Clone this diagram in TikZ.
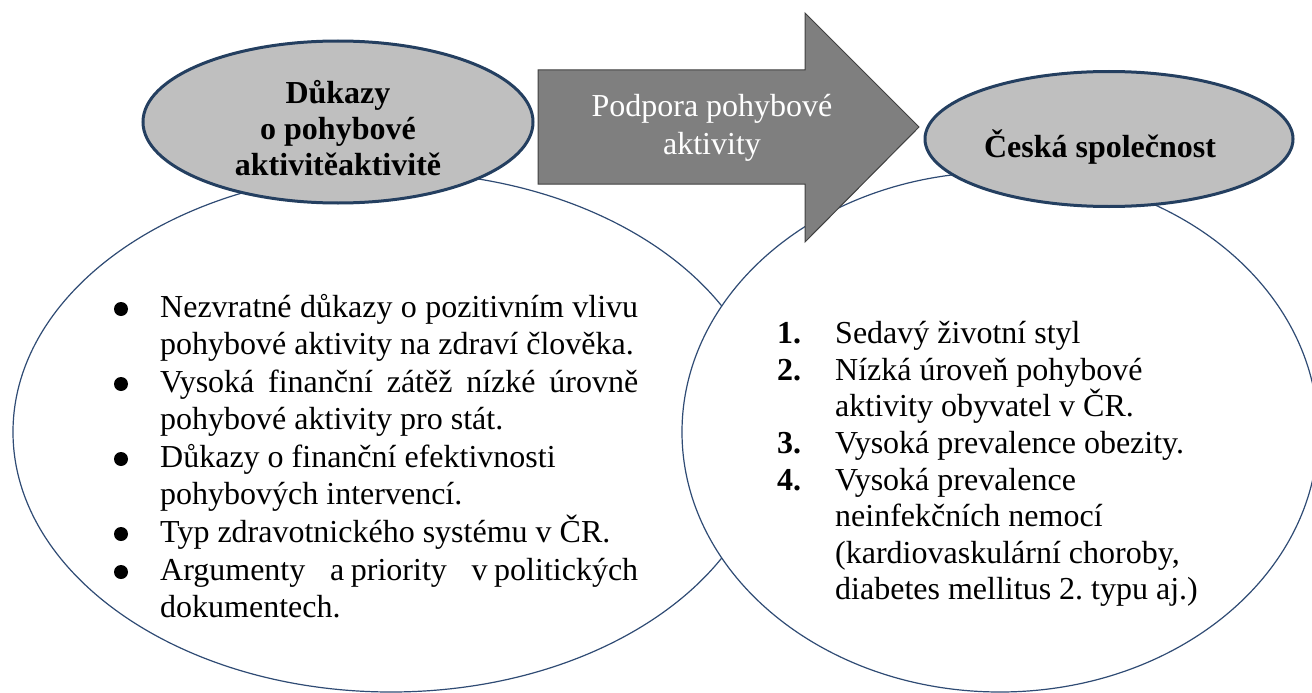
\documentclass[tikz,border=0pt]{standalone}
\usepackage{fontspec}
\setmainfont{Liberation Serif}
\usetikzlibrary{shapes.geometric}
\definecolor{navy}{HTML}{243F60}
\definecolor{linenavy}{HTML}{2F4B74}
\definecolor{ellgray}{HTML}{BFBFBF}
\definecolor{arrgray}{HTML}{7F7F7F}
\frenchspacing
\begin{document}
\begin{tikzpicture}[x=1pt,y=-1pt,
  bigell/.style={ellipse, draw=linenavy, line width=1.2pt, fill=white, inner sep=0pt},
  smallell/.style={ellipse, draw=navy, line width=3pt, fill=ellgray, inner sep=0pt},
  txt/.style={inner sep=0pt, font=\fontsize{32}{37.5}\selectfont},
  rtxt/.style={inner sep=0pt, font=\fontsize{32}{36.5}\selectfont},
  numlab/.style={inner sep=0pt, anchor=base west, font=\fontsize{32}{36.5}\selectfont\bfseries},
  arrowshape/.style={fill=arrgray, draw=black!75, line width=1pt},
  bulletdot/.style={fill=black}
]
\path[use as bounding box] (0,0) rectangle (1312,693);
\clip (0,0) rectangle (1312,693);

% big ellipses
\node[bigell, minimum width=756pt, minimum height=520pt] (leftbig) at (391,432) {};
\node[bigell, minimum width=636pt, minimum height=520pt] (rightbig) at (1000,432) {};

% arrow
\draw[arrowshape] (538,70) -- (805,70) -- (805,13) -- (919,127) -- (805,242) -- (805,184) -- (538,184) -- cycle;
\node[inner sep=0pt, anchor=base, text=white, font=\fontsize{32}{38}\selectfont] (arrtext) at (712,117)
  {\parbox[t]{320pt}{\centering Podpora pohybové\\aktivity}};

% small ellipses
\node[smallell, minimum width=390pt, minimum height=162pt] (evid) at (338,122) {};
\node[inner sep=0pt, anchor=base, font=\fontsize{32}{36}\selectfont\bfseries] (evidtext) at (338,103)
  {\parbox[t]{360pt}{\centering Důkazy\\o pohybové\\aktivitěaktivitě}};

\node[smallell, minimum width=368pt, minimum height=135pt] (soc) at (1109,139) {};
\node[inner sep=0pt, anchor=base, font=\fontsize{32}{36}\selectfont\bfseries] (soctext) at (1100,157) {Česká společnost};

% left bullet list
\fill[bulletdot] (121,309) circle[radius=7pt];
\fill[bulletdot] (121,384) circle[radius=7pt];
\fill[bulletdot] (121,459) circle[radius=7pt];
\fill[bulletdot] (121,534) circle[radius=7pt];
\fill[bulletdot] (121,572) circle[radius=7pt];
\node[txt, anchor=base west] (l1) at (160,317)
  {\parbox[t]{478pt}{Nezvratné důkazy o pozitivním vlivu\linebreak pohybové aktivity na zdraví člověka.}};
\node[txt, anchor=base west] (l2) at (160,392)
  {\parbox[t]{478pt}{Vysoká finanční zátěž nízké úrovně\linebreak pohybové aktivity pro stát.}};
\node[txt, anchor=base west] (l3) at (160,467)
  {\parbox[t]{478pt}{Důkazy o finanční efektivnosti\\pohybových intervencí.}};
\node[txt, anchor=base west] (l4) at (160,542)
  {\parbox[t]{478pt}{Typ zdravotnického systému v ČR.}};
\node[txt, anchor=base west] (l5) at (160,580)
  {\parbox[t]{478pt}{Argumenty\hspace{18pt} a priority\hspace{18pt} v politických\linebreak dokumentech.}};

% right numbered list
\node[numlab] (n1) at (777,343) {1.};
\node[numlab] (n2) at (777,380) {2.};
\node[numlab] (n3) at (777,453) {3.};
\node[numlab] (n4) at (777,490) {4.};
\node[rtxt, anchor=base west] (r1) at (835,343)
  {\parbox[t]{440pt}{\raggedright Sedavý životní styl}};
\node[rtxt, anchor=base west] (r2) at (835,380)
  {\parbox[t]{440pt}{\raggedright Nízká úroveň pohybové\\aktivity obyvatel v ČR.}};
\node[rtxt, anchor=base west] (r3) at (835,453)
  {\parbox[t]{440pt}{\raggedright Vysoká prevalence obezity.}};
\node[rtxt, anchor=base west] (r4) at (835,490)
  {\parbox[t]{440pt}{\raggedright Vysoká prevalence\\neinfekčních nemocí\\(kardiovaskulární choroby,\\diabetes mellitus 2. typu aj.)}};
\end{tikzpicture}
\end{document}
